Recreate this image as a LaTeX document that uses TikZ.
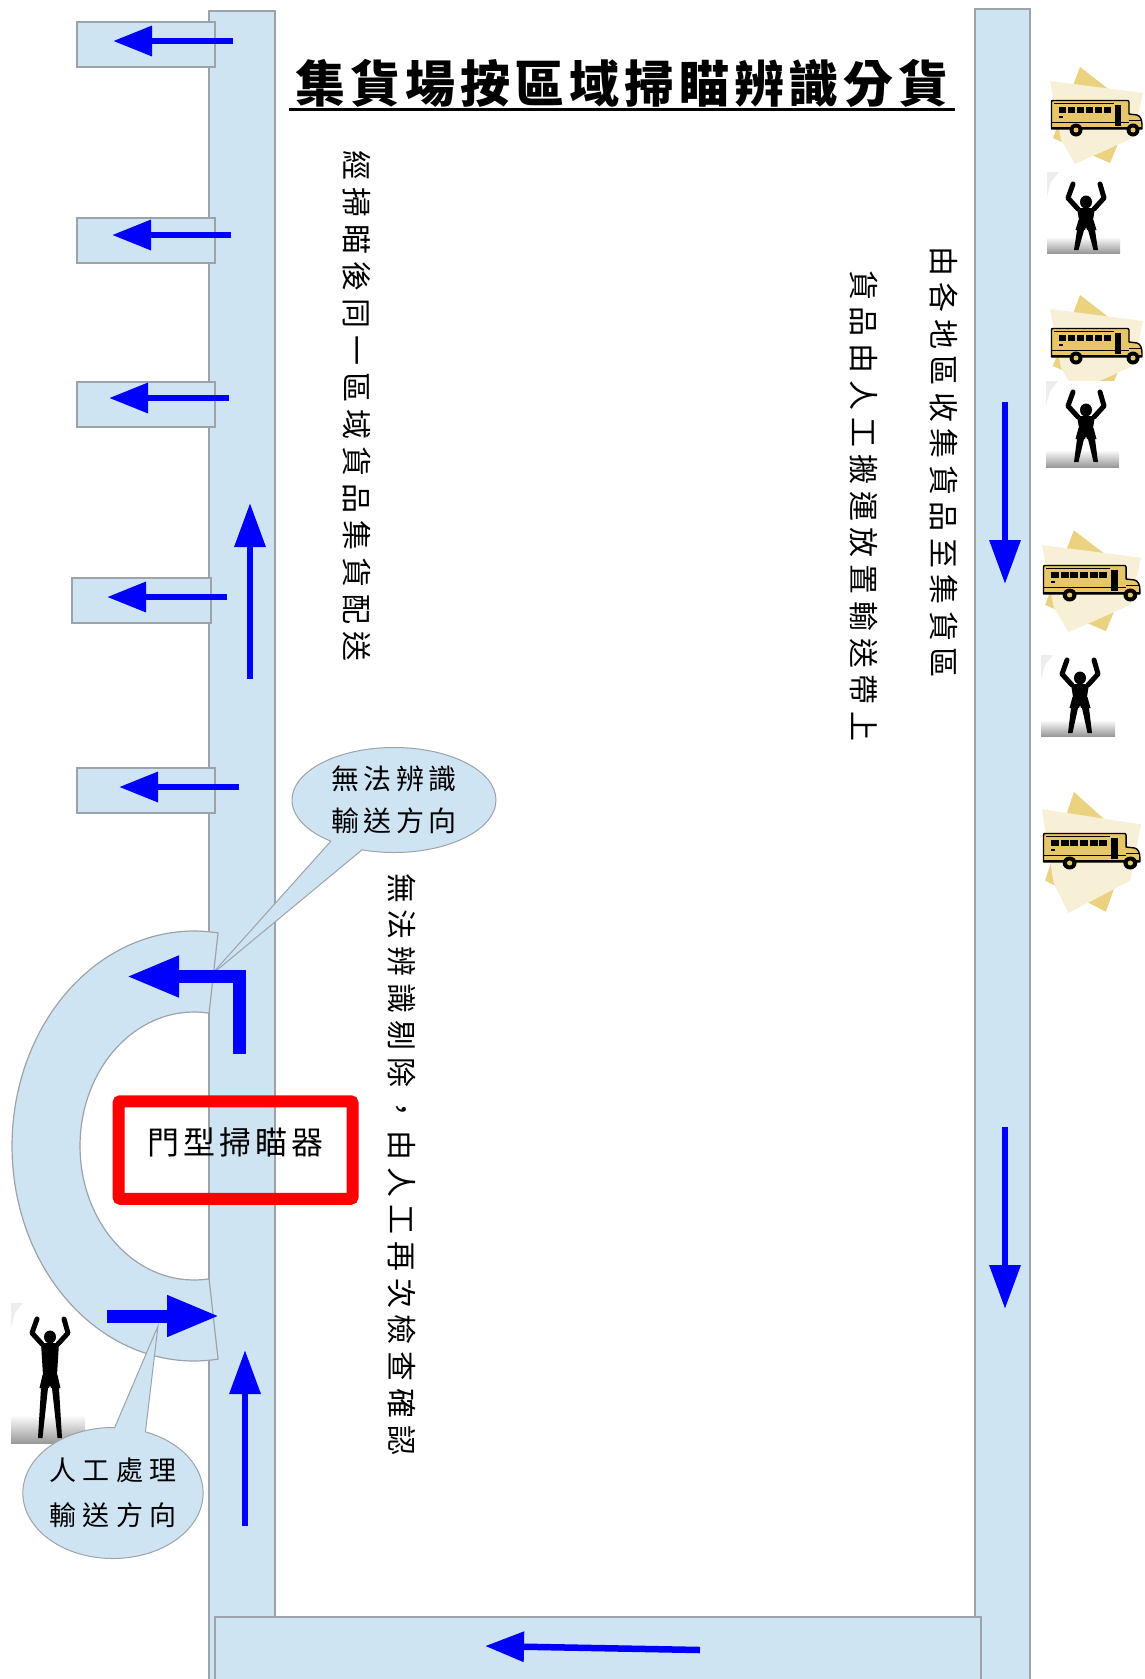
\documentclass[tikz,border=0pt]{standalone}
\usepackage{fontspec}
\newfontfamily\cjk{Noto Sans CJK TC}
\usetikzlibrary{arrows.meta,shapes.callouts}

\definecolor{convfill}{HTML}{CFE4F3}
\definecolor{convline}{HTML}{9DA3A9}
\definecolor{flowblue}{HTML}{0000FF}
\definecolor{busgold}{HTML}{E7C569}
\definecolor{burstgold}{HTML}{EBD280}
\definecolor{burstcream}{HTML}{F8F0D6}

% letter-spaced text: \spc{gap}{characters}
\newdimen\lsp
\newcommand\spc[2]{{\lsp=#1\relax\spcA#2\relax}}
\def\spcA#1{#1\spcB}
\def\spcB#1{\ifx#1\relax\else\kern\lsp#1\expandafter\spcB\fi}

% yellow school bus on a paper burst; #1,#2 body top-left, #3 x scale, #4 burst height scale
\newcommand\schoolbus[4]{%
  \begin{scope}[shift={(#1,#2)},xscale=#3]
    \begin{scope}[yscale=#4]
      \fill[burstgold] (29,-33) -- (82,8) -- (59,63) -- (2,38) -- cycle;
      \fill[burstcream] (-1,-19) -- (92,-7) -- (82,38) -- (24,64) -- (10,40) -- cycle;
    \end{scope}
    \filldraw[fill=busgold,draw=black,line width=1.4pt,line join=round]
      (0.5,29) -- (0.5,2.5) .. controls (0.5,0.5) .. (2.5,0.5) -- (77,0.5) -- (78,2)
      -- (78,14) -- (86,15) .. controls (89.5,16) and (91,20) .. (91,25) -- (91,29) -- cycle;
    \draw[line width=0.8pt] (3,3.2) -- (63,3.2);
    \foreach \i in {0,...,5} \fill (7.5+\i*9.1,6.5) rectangle ++(7.4,6);
    \fill (63.5,5) rectangle (70,26);
    \fill (7.5,16) rectangle (11.5,18);
    \draw[line width=0.9pt] (1,22.5) -- (78,22.5);
    \draw[line width=0.9pt] (78,20) -- (90,20);
    \fill (1,26.5) rectangle (91,29);
    \fill (25,30) circle[radius=6.5];
    \fill (82,30) circle[radius=6.5];
    \fill[busgold] (25,30) circle[radius=2.5];
    \fill[busgold] (82,30) circle[radius=2.5];
  \end{scope}}

% photo frame of a standing figure: white card with a grey floor
\newcommand\personbox[4]{%
  \fill[white] (#1,#2) rectangle (#3,#4);
  \shade[top color=white,bottom color=black!40] (#1,{#4-0.2*(#4-#2)}) rectangle (#3,#4);
  \fill[black!7] (#1,#2) -- ++(12,0) -- ++(-8,10) -- ++(-4,14) -- cycle;}

% silhouette with raised arms; #1,#2 head centre, #3 waist, #4 hem of shorts, #5 feet (offsets)
\newcommand\silhouette[5]{%
  \begin{scope}[shift={(#1,#2)}]
    \fill[black] (0,0) ellipse[x radius=6,y radius=6.5];
    \draw[black,line width=5pt,line join=round,line cap=round] (-13,-18) -- (-18,-4) -- (-8,7);
    \draw[black,line width=5pt,line join=round,line cap=round] (14,-18) -- (18,-4) -- (8,7);
    \fill[black] (-2.2,4) rectangle (2.2,8);
    \fill[black] (-9,6) -- (9,6) -- (7,#3) -- (-7,#3) -- cycle;
    \fill[black] (-7.5,#3) -- (7.5,#3) -- (10.5,#4) -- (1,#4) -- (0,{#4-3}) -- (-1,#4) -- (-10.5,#4) -- cycle;
    \fill[black] (-9,#4) -- (-2,#4) -- (-7.5,#5) -- (-12,#5) -- cycle;
    \fill[black] (9,#4) -- (2,#4) -- (7.5,#5) -- (12,#5) -- cycle;
  \end{scope}}

\tikzset{
  conv/.style={fill=convfill,draw=convline,line width=1.2pt},
  flow/.style={draw=flowblue,line width=6.5pt,-{Triangle[length=39pt,width=29pt]}},
  mainflow/.style={draw=flowblue,line width=6.5pt,-{Triangle[length=44pt,width=30pt]}},
  bigflow/.style={draw=flowblue,line width=13pt,line join=miter,-{Triangle[length=53pt,width=38pt]}},
  vtext/.style={rotate=-90,anchor=west,inner sep=0pt,font=\cjk\fontsize{30pt}{30pt}\selectfont},
  bubble/.style={ellipse callout,fill=convfill,draw=convline,line width=1pt,inner sep=0pt,
    callout pointer arc=20,align=center},
  scanbox/.style={draw=red,line width=12pt,rounded corners=2pt,minimum width=234pt,minimum height=97.5pt,inner sep=0pt}
}

\begin{document}
\begin{tikzpicture}[x=1pt,y=-1pt]
\useasboundingbox (0,0) rectangle (1145,1679);
\clip (0,0) rectangle (1145,1679);
\fill[white] (0,0) rectangle (1145,1679);

% main conveyors
\draw[conv] (209,11) rectangle (275,1695);
\draw[conv] (975,9) rectangle (1030,1695);

% zone chutes off the sorting line
\draw[conv] (77,22) rectangle (215,67);
\draw[conv] (77,218) rectangle (215,263);
\draw[conv] (77,382) rectangle (215,427);
\draw[conv] (72,578) rectangle (211,623);
\draw[conv] (77,768) rectangle (215,813);

% return belt along the bottom
\draw[conv] (215,1617) rectangle (981,1695);

% manual handling station
\personbox{11}{1303}{85}{1443}
\silhouette{50}{1337}{38}{51}{101}

% reject loop around the gate scanner
\filldraw[conv]
  plot[domain=-82.4:-277.6,samples=90] ({194+182*cos(\x)},{1146+215*sin(\x)})
  -- plot[domain=-277.6:-82.4,samples=70] ({194+114*cos(\x)},{1146+134*sin(\x)}) -- cycle;

% title
\node[font=\cjk\bfseries\fontsize{50pt}{50pt}\selectfont,inner sep=0pt] (title) at (622,83) {\spc{4.8pt}{集貨場按區域掃瞄辨識分貨}};
\draw[line width=3pt] (289,109) -- (955,109);

% vertical captions
\node[vtext] (zonetext) at (357,150) {\spc{7pt}{經掃瞄後同一區域貨品集貨配送}};
\node[vtext] (collecttext) at (944,246) {\spc{6.5pt}{由各地區收集貨品至集貨區}};
\node[vtext] (loadtext) at (864,270) {\spc{6.8pt}{貨品由人工搬運放置輸送帶上}};
\node[vtext] (rejecttext) at (402,873) {\spc{6.8pt}{無法辨識剔除，由人工再次檢查確認}};

% call-outs
\node[bubble,minimum width=204pt,minimum height=105pt,callout absolute pointer={(211,975)},
  font=\cjk\fontsize{28pt}{42pt}\selectfont] (rejectnote) at (394,800)
  {\spc{4.5pt}{無法辨識}\\\spc{4.5pt}{輸送方向}};
\node[bubble,minimum width=180pt,minimum height=131pt,callout absolute pointer={(158,1326)},
  font=\cjk\fontsize{27pt}{45pt}\selectfont] (manualnote) at (113,1493)
  {\spc{6.5pt}{人工處理}\\\spc{6.5pt}{輸送方向}};

% flow arrows
\draw[flow] (233,41) -- (113,41);
\draw[flow] (231,235) -- (112,235);
\draw[flow] (229,398) -- (109,398);
\draw[flow] (227,597) -- (107,597);
\draw[flow] (239,787) -- (119,787);
\draw[mainflow] (250,679) -- (250,503);
\draw[mainflow] (245,1526) -- (245,1350);
\draw[mainflow] (1005,402) -- (1005,584);
\draw[mainflow] (1005,1127) -- (1005,1309);
\draw[flow] (700,1650) -- (485,1646);
\draw[bigflow] (239,1054) -- (239,976.5) -- (126,976.5);
\draw[bigflow] (107,1316) -- (220,1316);

% gate scanner
\node[scanbox] (scanner) at (235.5,1150) {};
\node[font=\cjk\fontsize{32pt}{32pt}\selectfont,inner sep=0pt] (scannerlabel) at (235,1142) {\spc{4pt}{門型掃瞄器}};

% trucks and workers at the collection side
\schoolbus{1051}{100}{1}{1}
\schoolbus{1051}{328}{1}{1}
\schoolbus{1043}{565}{1.065}{1.05}
\schoolbus{1043}{833}{1.065}{1.25}
\personbox{1047}{172}{1120}{253}
\silhouette{1086}{202}{18}{28}{48}
\personbox{1046}{381}{1119}{467}
\silhouette{1086}{410}{18}{29}{52}
\personbox{1041}{655}{1115}{736}
\silhouette{1080}{678}{19}{30}{55}
\end{tikzpicture}
\end{document}
